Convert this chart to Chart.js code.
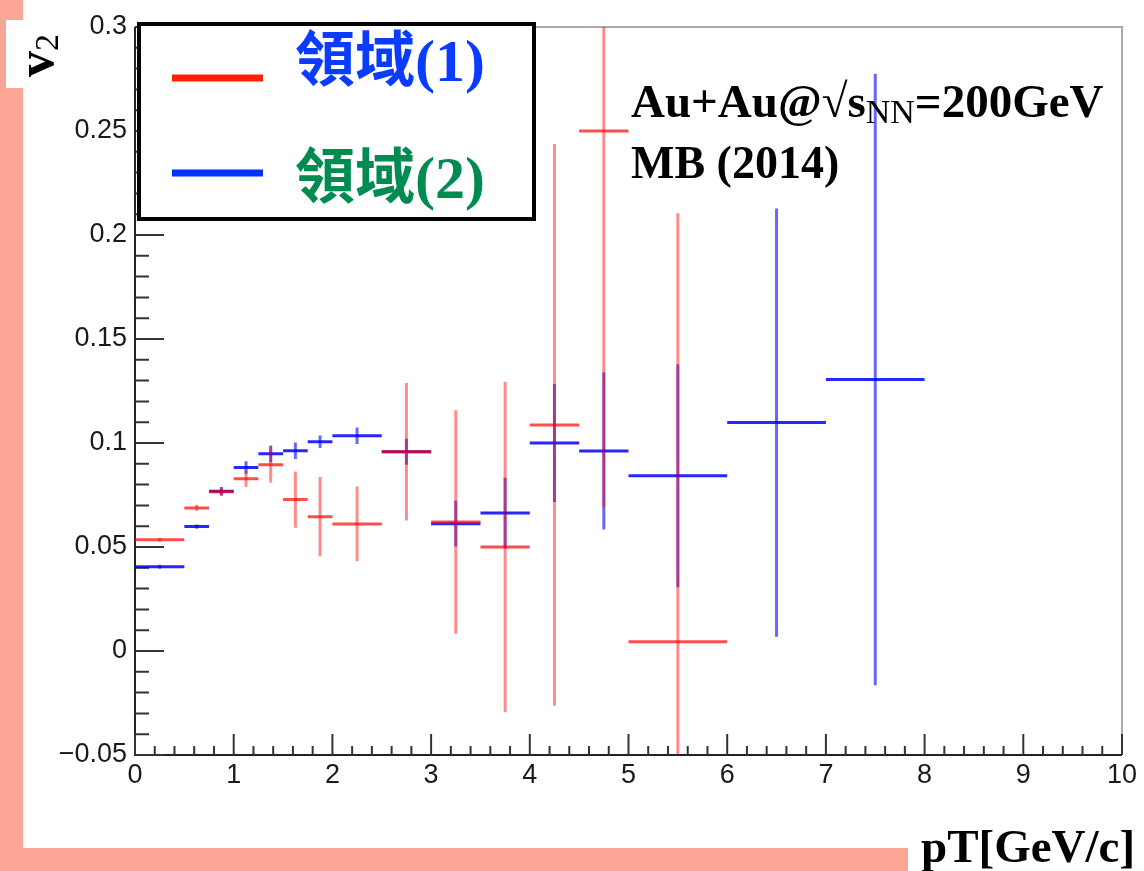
<!DOCTYPE html>
<html>
<head>
<meta charset="utf-8">
<script src="https://cdn.jsdelivr.net/npm/chart.js@4.4.0/dist/chart.umd.min.js"></script>
<style>
  body { margin: 0; background: #fff; }
</style>
</head>
<body>
<canvas id="myChart" width="1144" height="871"></canvas>
<script>
// axis ticks
let xTickValues = [0, 1, 2, 3, 4, 5, 6, 7, 8, 9, 10];
let xTickLabels = ['0', '1', '2', '3', '4', '5', '6', '7', '8', '9', '10'];
let yTickValues = [-0.05, 0, 0.05, 0.1, 0.15, 0.2, 0.25, 0.3];
let yTickLabels = ['\u22120.05', '0', '0.05', '0.1', '0.15', '0.2', '0.25', '0.3'];

// region (1) - red
let region1X = [0.25, 0.625, 0.875, 1.125, 1.375, 1.625, 1.875, 2.25, 2.75, 3.25, 3.75, 4.25, 4.75, 5.5];
let region1XErr = [0.25, 0.125, 0.125, 0.125, 0.125, 0.125, 0.125, 0.25, 0.25, 0.25, 0.25, 0.25, 0.25, 0.5];
let region1Y = [0.0535, 0.0688, 0.0766, 0.0828, 0.0895, 0.0728, 0.0646, 0.0611, 0.0958, 0.062, 0.05, 0.1087, 0.25, 0.0045];
let region1YErr = [0.001, 0.0015, 0.002, 0.004, 0.0085, 0.0135, 0.019, 0.018, 0.033, 0.0537, 0.0795, 0.135, 0.181, 0.206];

// region (2) - blue
let region2X = [0.25, 0.625, 0.875, 1.125, 1.375, 1.625, 1.875, 2.25, 2.75, 3.25, 3.75, 4.25, 4.75, 5.5, 6.5, 7.5];
let region2XErr = [0.25, 0.125, 0.125, 0.125, 0.125, 0.125, 0.125, 0.25, 0.25, 0.25, 0.25, 0.25, 0.25, 0.5, 0.5, 0.5];
let region2Y = [0.0405, 0.0598, 0.0768, 0.0882, 0.0948, 0.0963, 0.1006, 0.1035, 0.0958, 0.0612, 0.0663, 0.1, 0.0962, 0.0843, 0.1098, 0.1305];
let region2YErr = [0.001, 0.001, 0.002, 0.003, 0.004, 0.004, 0.003, 0.004, 0.0062, 0.011, 0.017, 0.0284, 0.0378, 0.0536, 0.103, 0.147];

let labelColors = ['#0a3cff', '#008c50'];

// horizontal bars: x-err segments, NaN point breaks the line
function hSegments(xs, xe, ys) {
  let out = [];
  for (let i = 0; i < xs.length; i++) {
    out.push({ x: xs[i] - xe[i], y: ys[i] });
    out.push({ x: xs[i] + xe[i], y: ys[i] });
    out.push({ x: NaN, y: NaN });
  }
  return out;
}
function vSegments(xs, ys, ye) {
  let out = [];
  for (let i = 0; i < xs.length; i++) {
    out.push({ x: xs[i], y: ys[i] - ye[i] });
    out.push({ x: xs[i], y: ys[i] + ye[i] });
    out.push({ x: NaN, y: NaN });
  }
  return out;
}

function lineSet(data, color, label) {
  return {
    label: label,
    data: data,
    showLine: true,
    spanGaps: false,
    borderColor: color,
    borderWidth: 3,
    borderCapStyle: 'butt',
    pointRadius: 0,
    pointHoverRadius: 0,
    legendColor: null,
  };
}

let datasets = [
  lineSet(hSegments(region1X, region1XErr, region1Y), 'rgba(255,0,0,0.7)', '領域(1)'),
  lineSet(vSegments(region1X, region1Y, region1YErr), 'rgba(255,0,0,0.45)'),
  lineSet(hSegments(region2X, region2XErr, region2Y), 'rgba(0,0,255,0.85)', '領域(2)'),
  lineSet(vSegments(region2X, region2Y, region2YErr), 'rgba(0,0,255,0.6)'),
];
datasets[0].legendColor = '#ff2200';
datasets[2].legendColor = '#0033ff';

const rootStyle = {
  id: 'rootStyle',
  beforeDraw(chart) {
    const ctx = chart.ctx;
    ctx.save();
    ctx.fillStyle = '#fff';
    ctx.fillRect(0, 0, chart.width, chart.height);
    ctx.fillStyle = '#fba596';
    ctx.fillRect(0, 0, 23, chart.height);
    ctx.fillRect(0, 848, 908, 23);
    ctx.fillStyle = '#fff';
    ctx.fillRect(6, 20, 50, 68);
    ctx.restore();
  },
  beforeDatasetsDraw(chart) {
    const ctx = chart.ctx;
    const a = chart.chartArea;
    const x = chart.scales.x;
    const y = chart.scales.y;
    ctx.save();
    // frame
    ctx.strokeStyle = '#aaa';
    ctx.lineWidth = 2;
    ctx.beginPath();
    ctx.moveTo(a.left, a.top);
    ctx.lineTo(a.right, a.top);
    ctx.lineTo(a.right, a.bottom);
    ctx.stroke();
    // axes
    ctx.strokeStyle = '#222';
    ctx.beginPath();
    ctx.moveTo(a.left, a.top);
    ctx.lineTo(a.left, a.bottom);
    ctx.lineTo(a.right, a.bottom);
    ctx.stroke();
    // ticks pointing inside
    ctx.strokeStyle = '#333';
    ctx.beginPath();
    for (let i = 0; i <= 50; i++) {
      let px = x.getPixelForValue(i * 0.2);
      let len = i % 5 === 0 ? 21 : 9;
      ctx.moveTo(px, a.bottom);
      ctx.lineTo(px, a.bottom - len);
    }
    for (let i = 0; i <= 35; i++) {
      let py = y.getPixelForValue(-0.05 + i * 0.01);
      let len = i % 5 === 0 ? 29 : 14;
      ctx.moveTo(a.left, py);
      ctx.lineTo(a.left + len, py);
    }
    ctx.stroke();
    ctx.restore();
  },
  afterDraw(chart) {
    const ctx = chart.ctx;
    ctx.save();

    // legend box
    ctx.fillStyle = '#fff';
    ctx.fillRect(137, 22, 399, 199);
    ctx.strokeStyle = '#000';
    ctx.lineWidth = 4;
    ctx.strokeRect(139, 24, 395, 195);
    let entries = chart.data.datasets.filter(d => d.label);
    let rowY = [78, 173];
    let textY = [65, 182];
    entries.forEach((d, i) => {
      ctx.strokeStyle = d.legendColor;
      ctx.lineWidth = 7;
      ctx.beginPath();
      ctx.moveTo(172, rowY[i]);
      ctx.lineTo(263, rowY[i]);
      ctx.stroke();
      ctx.fillStyle = labelColors[i];
      ctx.font = 'bold 60px "Liberation Serif", "Noto Sans CJK TC"';
      ctx.textBaseline = 'middle';
      ctx.fillText(d.label, 295, textY[i]);
    });

    // run info
    ctx.fillStyle = '#000';
    ctx.textBaseline = 'alphabetic';
    ctx.font = 'bold 47px "Liberation Serif"';
    let tx = 631;
    ctx.fillText('Au+Au@\u221As', tx, 117);
    tx += ctx.measureText('Au+Au@\u221As').width;
    ctx.font = '34px "Liberation Serif"';
    ctx.fillText('NN', tx, 123);
    tx += ctx.measureText('NN').width;
    ctx.font = 'bold 47px "Liberation Serif"';
    ctx.fillText('=200GeV', tx, 117);
    ctx.font = 'bold 46px "Liberation Serif"';
    ctx.fillText('MB (2014)', 631, 178);

    // x title
    ctx.font = 'bold 47px "Liberation Serif"';
    ctx.fillText('pT[GeV/c]', 921, 862);

    // y title, rotated
    ctx.translate(53, 77);
    ctx.rotate(-Math.PI / 2);
    ctx.font = 'bold 52px "Liberation Serif"';
    ctx.fillText('v', 0, 0);
    let vw = ctx.measureText('v').width;
    ctx.font = '34px "Liberation Serif"';
    ctx.fillText('2', vw, 5);

    ctx.restore();
  },
};

const ctx = document.getElementById('myChart');
new Chart(ctx, {
  type: 'scatter',
  data: { datasets: datasets },
  options: {
    responsive: false,
    animation: false,
    events: [],
    layout: { padding: { top: 27, right: 22, left: 0, bottom: 0 } },
    plugins: {
      legend: { display: false },
      tooltip: { enabled: false },
    },
    scales: {
      x: {
        type: 'linear',
        min: 0,
        max: 10,
        afterBuildTicks: (scale) => {
          scale.ticks = xTickValues.map(v => ({ value: v }));
        },
        afterFit: (scale) => {
          scale.height = 116;
        },
        grid: { display: false, drawTicks: false },
        border: { display: false },
        ticks: {
          autoSkip: false,
          maxRotation: 0,
          padding: 4,
          color: '#1a1a1a',
          font: { family: '"Liberation Sans"', size: 27 },
          callback: (v, i) => xTickLabels[i],
        },
      },
      y: {
        type: 'linear',
        min: -0.05,
        max: 0.3,
        afterBuildTicks: (scale) => {
          scale.ticks = yTickValues.map(v => ({ value: v }));
        },
        afterFit: (scale) => {
          scale.width = 135;
        },
        grid: { display: false, drawTicks: false },
        border: { display: false },
        ticks: {
          autoSkip: false,
          padding: 8,
          color: '#1a1a1a',
          font: { family: '"Liberation Sans"', size: 27 },
          callback: (v, i) => yTickLabels[i],
        },
      },
    },
  },
  plugins: [rootStyle],
});
</script>
</body>
</html>
